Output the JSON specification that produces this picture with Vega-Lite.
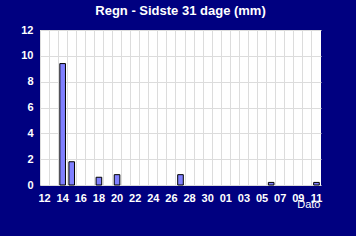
{
  "$schema": "https://vega.github.io/schema/vega-lite/v6.json",
  "autosize": {"type": "none"},
  "padding": {"left": 40, "top": 30, "right": 35, "bottom": 51},
  "width": 281,
  "height": 155,
  "background": "#000080",
  "title": {
    "text": "Regn - Sidste 31 dage (mm)",
    "color": "white",
    "font": "Liberation Sans",
    "fontSize": 13,
    "fontWeight": "bold",
    "anchor": "middle",
    "offset": 6
  },
  "data": {
    "values": [
      {"dag": "12", "mm": 0}, {"dag": "13", "mm": 0}, {"dag": "14", "mm": 9.4},
      {"dag": "15", "mm": 1.8}, {"dag": "16", "mm": 0}, {"dag": "17", "mm": 0},
      {"dag": "18", "mm": 0.6}, {"dag": "19", "mm": 0}, {"dag": "20", "mm": 0.8},
      {"dag": "21", "mm": 0}, {"dag": "22", "mm": 0}, {"dag": "23", "mm": 0},
      {"dag": "24", "mm": 0}, {"dag": "25", "mm": 0}, {"dag": "26", "mm": 0},
      {"dag": "27", "mm": 0.8}, {"dag": "28", "mm": 0}, {"dag": "29", "mm": 0},
      {"dag": "30", "mm": 0}, {"dag": "31", "mm": 0}, {"dag": "01", "mm": 0},
      {"dag": "02", "mm": 0}, {"dag": "03", "mm": 0}, {"dag": "04", "mm": 0},
      {"dag": "05", "mm": 0}, {"dag": "06", "mm": 0.2}, {"dag": "07", "mm": 0},
      {"dag": "08", "mm": 0}, {"dag": "09", "mm": 0}, {"dag": "10", "mm": 0},
      {"dag": "11", "mm": 0.2}
    ]
  },
  "mark": {"type": "bar", "width": {"band": 0.62}, "fill": "#8080ff", "stroke": "black", "strokeWidth": 1},
  "encoding": {
    "x": {
      "field": "dag",
      "type": "ordinal",
      "sort": null,
      "scale": {"paddingInner": 0, "paddingOuter": 0},
      "axis": {
        "bandPosition": 0,
        "grid": true,
        "gridColor": "#dcdcdc",
        "gridWidth": 1,
        "domain": false,
        "ticks": false,
        "tickSize": 0,
        "labelAngle": 0,
        "labelPadding": 7,
        "labelColor": "white",
        "labelFont": "Liberation Sans",
        "labelFontSize": 11,
        "labelFontWeight": "bold",
        "labelExpr": "indexof(['12','14','16','18','20','22','24','26','28','30','01','03','05','07','09','11'], datum.value) >= 0 ? datum.value : ''",
        "title": "Dato",
        "titleColor": "white",
        "titleFont": "Liberation Sans",
        "titleFontSize": 11,
        "titleFontWeight": "normal",
        "titleAnchor": "end",
        "titleAlign": "right",
        "titleBaseline": "alphabetic",
        "titleX": 280,
        "titleY": 22
      }
    },
    "y": {
      "field": "mm",
      "type": "quantitative",
      "scale": {"domain": [0, 12], "nice": false},
      "axis": {
        "values": [0, 2, 4, 6, 8, 10, 12],
        "grid": true,
        "gridColor": "#dcdcdc",
        "domain": false,
        "ticks": false,
        "tickSize": 0,
        "labelPadding": 7,
        "labelColor": "white",
        "labelFont": "Liberation Sans",
        "labelFontSize": 11,
        "labelFontWeight": "bold",
        "title": null
      }
    },
    "opacity": {"condition": {"test": "datum.mm > 0", "value": 1}, "value": 0}
  },
  "config": {
    "view": {"fill": "white", "stroke": null}
  }
}
